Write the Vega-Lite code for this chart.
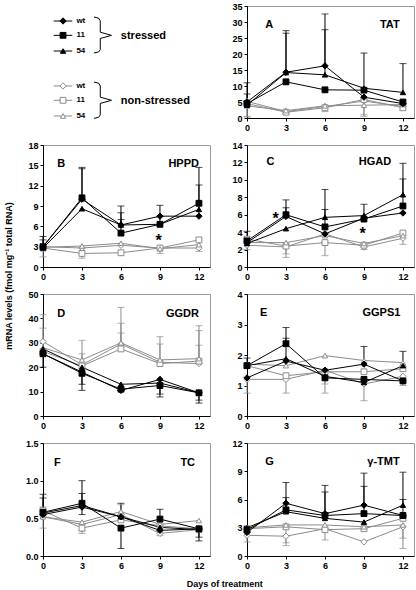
{
"$schema": "https://vega.github.io/schema/vega-lite/v6.json",
"padding": {"left": 4, "top": 1, "right": 2, "bottom": 2},
"config": {
 "font": "Liberation Sans",
 "view": {"stroke": "#9a9a9a", "strokeWidth": 1},
 "axis": {"labelFont": "Liberation Sans", "labelFontWeight": "bold", "labelFontSize": 9, "labelColor": "#000", "domainColor": "#000", "tickColor": "#000", "tickSize": 3, "grid": false, "labelPadding": 2, "labelFlush": false, "labelOverlap": false, "domainWidth": 1, "tickWidth": 1, "tickCount": 20},
 "title": {"font": "Liberation Sans", "fontWeight": "bold", "fontSize": 9, "color": "#000"}
},
"datasets": {
 "leg": [
  {"g":"S","gl":"stressed","s":"wt","y":13.4},{"g":"S","gl":"stressed","s":"11","y":26.2},{"g":"S","gl":"stressed","s":"54","y":40.2},
  {"g":"N","gl":"non-stressed","s":"wt","y":71.4},{"g":"N","gl":"non-stressed","s":"11","y":84.2},{"g":"N","gl":"non-stressed","s":"54","y":98.2}
 ],
 "br": [
  {"g":"S","i":0,"bx":30.5,"by":9.8},{"g":"S","i":1,"bx":33.3,"by":10.8},{"g":"S","i":2,"bx":34.3,"by":13.3},{"g":"S","i":3,"bx":34.3,"by":23.4},{"g":"S","i":4,"bx":41,"by":26.2},{"g":"S","i":5,"bx":34.3,"by":29},{"g":"S","i":6,"bx":34.3,"by":39},{"g":"S","i":7,"bx":33.3,"by":41},{"g":"S","i":8,"bx":30.5,"by":41.9},
  {"g":"N","i":0,"bx":30.5,"by":67.9},{"g":"N","i":1,"bx":33.3,"by":68.9},{"g":"N","i":2,"bx":34.3,"by":71.4},{"g":"N","i":3,"bx":34.3,"by":81.4},{"g":"N","i":4,"bx":41,"by":84.2},{"g":"N","i":5,"bx":34.3,"by":87},{"g":"N","i":6,"bx":34.3,"by":97.2},{"g":"N","i":7,"bx":33.3,"by":99.4},{"g":"N","i":8,"bx":30.5,"by":100.3}
 ],
 "d": [
  {"p":"A","g":"N","s":"wt","d":0,"v":5.2,"e":0.5},{"p":"A","g":"N","s":"wt","d":3,"v":2},{"p":"A","g":"N","s":"wt","d":6,"v":3.6},{"p":"A","g":"N","s":"wt","d":9,"v":5.3,"e":1},{"p":"A","g":"N","s":"wt","d":12,"v":3.6},
  {"p":"A","g":"N","s":"11","d":0,"v":4.5,"e":0.3},{"p":"A","g":"N","s":"11","d":3,"v":1.8},{"p":"A","g":"N","s":"11","d":6,"v":3.2,"e":2},{"p":"A","g":"N","s":"11","d":9,"v":5.8},{"p":"A","g":"N","s":"11","d":12,"v":3.2,"e":2.5},
  {"p":"A","g":"N","s":"54","d":0,"v":3.8},{"p":"A","g":"N","s":"54","d":3,"v":2.3,"e":1.5},{"p":"A","g":"N","s":"54","d":6,"v":3.8},{"p":"A","g":"N","s":"54","d":9,"v":4,"e":0.5},{"p":"A","g":"N","s":"54","d":12,"v":4.2},
  {"p":"A","g":"S","s":"wt","d":0,"v":5,"e":7.5},{"p":"A","g":"S","s":"wt","d":3,"v":14.3,"e":27.3},{"p":"A","g":"S","s":"wt","d":6,"v":16.3,"e":32.5},{"p":"A","g":"S","s":"wt","d":9,"v":6.5},{"p":"A","g":"S","s":"wt","d":12,"v":4.5},
  {"p":"A","g":"S","s":"11","d":0,"v":4.5,"e":11},{"p":"A","g":"S","s":"11","d":3,"v":11.3},{"p":"A","g":"S","s":"11","d":6,"v":8.8},{"p":"A","g":"S","s":"11","d":9,"v":8.7},{"p":"A","g":"S","s":"11","d":12,"v":5},
  {"p":"A","g":"S","s":"54","d":0,"v":4},{"p":"A","g":"S","s":"54","d":3,"v":14.2,"e":26.5},{"p":"A","g":"S","s":"54","d":6,"v":13.5,"e":27.6},{"p":"A","g":"S","s":"54","d":9,"v":9.3,"e":20.3},{"p":"A","g":"S","s":"54","d":12,"v":8,"e":17},

  {"p":"B","g":"N","s":"wt","d":0,"v":3,"e":1.5},{"p":"B","g":"N","s":"wt","d":3,"v":2.8},{"p":"B","g":"N","s":"wt","d":6,"v":3.2},{"p":"B","g":"N","s":"wt","d":9,"v":2.8,"e":2},{"p":"B","g":"N","s":"wt","d":12,"v":2.8,"e":2.3},
  {"p":"B","g":"N","s":"11","d":0,"v":2.8},{"p":"B","g":"N","s":"11","d":3,"v":2,"e":1.3},{"p":"B","g":"N","s":"11","d":6,"v":2.1},{"p":"B","g":"N","s":"11","d":9,"v":2.8},{"p":"B","g":"N","s":"11","d":12,"v":4},
  {"p":"B","g":"N","s":"54","d":0,"v":2.9},{"p":"B","g":"N","s":"54","d":3,"v":3.1},{"p":"B","g":"N","s":"54","d":6,"v":3.5},{"p":"B","g":"N","s":"54","d":9,"v":2.7},{"p":"B","g":"N","s":"54","d":12,"v":3.3},
  {"p":"B","g":"S","s":"wt","d":0,"v":3,"e":4.5},{"p":"B","g":"S","s":"wt","d":3,"v":10,"e":14.7},{"p":"B","g":"S","s":"wt","d":6,"v":6.2,"e":9},{"p":"B","g":"S","s":"wt","d":9,"v":7.5,"e":9.1},{"p":"B","g":"S","s":"wt","d":12,"v":7.5,"e":12.1},
  {"p":"B","g":"S","s":"11","d":0,"v":3,"e":4},{"p":"B","g":"S","s":"11","d":3,"v":10.2,"e":14.5},{"p":"B","g":"S","s":"11","d":6,"v":5,"e":7},{"p":"B","g":"S","s":"11","d":9,"v":6.3,"e":7.5},{"p":"B","g":"S","s":"11","d":12,"v":9.4,"e":14.7},
  {"p":"B","g":"S","s":"54","d":0,"v":2.8},{"p":"B","g":"S","s":"54","d":3,"v":8.6},{"p":"B","g":"S","s":"54","d":6,"v":6.2,"e":8},{"p":"B","g":"S","s":"54","d":9,"v":6.3},{"p":"B","g":"S","s":"54","d":12,"v":8.5},

  {"p":"C","g":"N","s":"wt","d":0,"v":2.5,"e":2},{"p":"C","g":"N","s":"wt","d":3,"v":2.3,"e":1.1},{"p":"C","g":"N","s":"wt","d":6,"v":3.8},{"p":"C","g":"N","s":"wt","d":9,"v":2.3,"e":2},{"p":"C","g":"N","s":"wt","d":12,"v":3.3,"e":2.6},
  {"p":"C","g":"N","s":"11","d":0,"v":3.2},{"p":"C","g":"N","s":"11","d":3,"v":2.4,"e":1.5},{"p":"C","g":"N","s":"11","d":6,"v":2.8,"e":1.3},{"p":"C","g":"N","s":"11","d":9,"v":2.5},{"p":"C","g":"N","s":"11","d":12,"v":3.9},
  {"p":"C","g":"N","s":"54","d":0,"v":2.8},{"p":"C","g":"N","s":"54","d":3,"v":2.8},{"p":"C","g":"N","s":"54","d":6,"v":3.6},{"p":"C","g":"N","s":"54","d":9,"v":2.7},{"p":"C","g":"N","s":"54","d":12,"v":3.6},
  {"p":"C","g":"S","s":"wt","d":0,"v":2.8,"e":4.1},{"p":"C","g":"S","s":"wt","d":3,"v":5.8,"e":7.7},{"p":"C","g":"S","s":"wt","d":6,"v":3.8},{"p":"C","g":"S","s":"wt","d":9,"v":5.6},{"p":"C","g":"S","s":"wt","d":12,"v":6.2},
  {"p":"C","g":"S","s":"11","d":0,"v":3},{"p":"C","g":"S","s":"11","d":3,"v":6,"e":6.8},{"p":"C","g":"S","s":"11","d":6,"v":4.6,"e":6.6},{"p":"C","g":"S","s":"11","d":9,"v":5.5,"e":7.2},{"p":"C","g":"S","s":"11","d":12,"v":7,"e":10.1},
  {"p":"C","g":"S","s":"54","d":0,"v":2.7},{"p":"C","g":"S","s":"54","d":3,"v":4.4},{"p":"C","g":"S","s":"54","d":6,"v":5.7,"e":8.9},{"p":"C","g":"S","s":"54","d":9,"v":5.9},{"p":"C","g":"S","s":"54","d":12,"v":8.3,"e":11.9},

  {"p":"D","g":"N","s":"wt","d":0,"v":30.5,"e":41.5},{"p":"D","g":"N","s":"wt","d":3,"v":21,"e":31},{"p":"D","g":"N","s":"wt","d":6,"v":29.5,"e":44.5},{"p":"D","g":"N","s":"wt","d":9,"v":22,"e":32.5},{"p":"D","g":"N","s":"wt","d":12,"v":21.5,"e":37},
  {"p":"D","g":"N","s":"11","d":0,"v":26.5,"e":36},{"p":"D","g":"N","s":"11","d":3,"v":20.5,"e":25.5},{"p":"D","g":"N","s":"11","d":6,"v":27.5,"e":34},{"p":"D","g":"N","s":"11","d":9,"v":21.5,"e":29.5},{"p":"D","g":"N","s":"11","d":12,"v":22.5,"e":35},
  {"p":"D","g":"N","s":"54","d":0,"v":28},{"p":"D","g":"N","s":"54","d":3,"v":23},{"p":"D","g":"N","s":"54","d":6,"v":30,"e":38},{"p":"D","g":"N","s":"54","d":9,"v":23},{"p":"D","g":"N","s":"54","d":12,"v":23.5,"e":29},
  {"p":"D","g":"S","s":"wt","d":0,"v":25.5,"e":20},{"p":"D","g":"S","s":"wt","d":3,"v":18,"e":13},{"p":"D","g":"S","s":"wt","d":6,"v":10.5},{"p":"D","g":"S","s":"wt","d":9,"v":15,"e":9},{"p":"D","g":"S","s":"wt","d":12,"v":9.5,"e":5.3},
  {"p":"D","g":"S","s":"11","d":0,"v":25.5},{"p":"D","g":"S","s":"11","d":3,"v":17.5,"e":10.5},{"p":"D","g":"S","s":"11","d":6,"v":11},{"p":"D","g":"S","s":"11","d":9,"v":12.5,"e":7.8},{"p":"D","g":"S","s":"11","d":12,"v":9.5,"e":6.5},
  {"p":"D","g":"S","s":"54","d":0,"v":27.5},{"p":"D","g":"S","s":"54","d":3,"v":20},{"p":"D","g":"S","s":"54","d":6,"v":13,"e":10.5},{"p":"D","g":"S","s":"54","d":9,"v":13.5},{"p":"D","g":"S","s":"54","d":12,"v":9.5},

  {"p":"E","g":"N","s":"wt","d":0,"v":1.2,"e":0.75},{"p":"E","g":"N","s":"wt","d":3,"v":1.2},{"p":"E","g":"N","s":"wt","d":6,"v":1.5,"e":1.05},{"p":"E","g":"N","s":"wt","d":9,"v":1.05,"e":0.5},{"p":"E","g":"N","s":"wt","d":12,"v":1.3,"e":1},
  {"p":"E","g":"N","s":"11","d":0,"v":1.65},{"p":"E","g":"N","s":"11","d":3,"v":1.32,"e":0.75},{"p":"E","g":"N","s":"11","d":6,"v":1.45,"e":0.75},{"p":"E","g":"N","s":"11","d":9,"v":1.45},{"p":"E","g":"N","s":"11","d":12,"v":1.55},
  {"p":"E","g":"N","s":"54","d":0,"v":1.7},{"p":"E","g":"N","s":"54","d":3,"v":1.65},{"p":"E","g":"N","s":"54","d":6,"v":1.98},{"p":"E","g":"N","s":"54","d":9,"v":1.82},{"p":"E","g":"N","s":"54","d":12,"v":1.75},
  {"p":"E","g":"S","s":"wt","d":0,"v":1.25},{"p":"E","g":"S","s":"wt","d":3,"v":1.8},{"p":"E","g":"S","s":"wt","d":6,"v":1.5},{"p":"E","g":"S","s":"wt","d":9,"v":1.7,"e":2.28},{"p":"E","g":"S","s":"wt","d":12,"v":1.15},
  {"p":"E","g":"S","s":"11","d":0,"v":1.65,"e":1.9},{"p":"E","g":"S","s":"11","d":3,"v":2.37,"e":2.9},{"p":"E","g":"S","s":"11","d":6,"v":1.25},{"p":"E","g":"S","s":"11","d":9,"v":1.2},{"p":"E","g":"S","s":"11","d":12,"v":1.15},
  {"p":"E","g":"S","s":"54","d":0,"v":1.65},{"p":"E","g":"S","s":"54","d":3,"v":1.88,"e":2.55},{"p":"E","g":"S","s":"54","d":6,"v":1.3},{"p":"E","g":"S","s":"54","d":9,"v":1.1},{"p":"E","g":"S","s":"54","d":12,"v":1.65,"e":2.12},

  {"p":"F","g":"N","s":"wt","d":0,"v":0.52,"e":0.37},{"p":"F","g":"N","s":"wt","d":3,"v":0.42},{"p":"F","g":"N","s":"wt","d":6,"v":0.55},{"p":"F","g":"N","s":"wt","d":9,"v":0.3,"e":0.27},{"p":"F","g":"N","s":"wt","d":12,"v":0.35},
  {"p":"F","g":"N","s":"11","d":0,"v":0.6,"e":0.65},{"p":"F","g":"N","s":"11","d":3,"v":0.37,"e":0.3},{"p":"F","g":"N","s":"11","d":6,"v":0.48},{"p":"F","g":"N","s":"11","d":9,"v":0.4},{"p":"F","g":"N","s":"11","d":12,"v":0.36},
  {"p":"F","g":"N","s":"54","d":0,"v":0.52},{"p":"F","g":"N","s":"54","d":3,"v":0.45,"e":0.33},{"p":"F","g":"N","s":"54","d":6,"v":0.59,"e":0.68},{"p":"F","g":"N","s":"54","d":9,"v":0.42},{"p":"F","g":"N","s":"54","d":12,"v":0.47},
  {"p":"F","g":"S","s":"wt","d":0,"v":0.55,"e":0.82},{"p":"F","g":"S","s":"wt","d":3,"v":0.65,"e":0.83},{"p":"F","g":"S","s":"wt","d":6,"v":0.52,"e":0.7},{"p":"F","g":"S","s":"wt","d":9,"v":0.34},{"p":"F","g":"S","s":"wt","d":12,"v":0.36,"e":0.25},
  {"p":"F","g":"S","s":"11","d":0,"v":0.58,"e":0.77},{"p":"F","g":"S","s":"11","d":3,"v":0.7,"e":1},{"p":"F","g":"S","s":"11","d":6,"v":0.37,"e":0.1},{"p":"F","g":"S","s":"11","d":9,"v":0.49,"e":0.62},{"p":"F","g":"S","s":"11","d":12,"v":0.36},
  {"p":"F","g":"S","s":"54","d":0,"v":0.57},{"p":"F","g":"S","s":"54","d":3,"v":0.67,"e":0.55},{"p":"F","g":"S","s":"54","d":6,"v":0.52},{"p":"F","g":"S","s":"54","d":9,"v":0.38},{"p":"F","g":"S","s":"54","d":12,"v":0.35,"e":0.2},

  {"p":"G","g":"N","s":"wt","d":0,"v":2.2,"e":1.5},{"p":"G","g":"N","s":"wt","d":3,"v":2.1,"e":1.1},{"p":"G","g":"N","s":"wt","d":6,"v":2.9},{"p":"G","g":"N","s":"wt","d":9,"v":1.5},{"p":"G","g":"N","s":"wt","d":12,"v":3.1,"e":0.8},
  {"p":"G","g":"N","s":"11","d":0,"v":2.9},{"p":"G","g":"N","s":"11","d":3,"v":3.1,"e":1.4},{"p":"G","g":"N","s":"11","d":6,"v":2.8,"e":1.7},{"p":"G","g":"N","s":"11","d":9,"v":2.9},{"p":"G","g":"N","s":"11","d":12,"v":4},
  {"p":"G","g":"N","s":"54","d":0,"v":3},{"p":"G","g":"N","s":"54","d":3,"v":3.3},{"p":"G","g":"N","s":"54","d":6,"v":3.3},{"p":"G","g":"N","s":"54","d":9,"v":3.1},{"p":"G","g":"N","s":"54","d":12,"v":3.3,"e":1.9},
  {"p":"G","g":"S","s":"wt","d":0,"v":2.5},{"p":"G","g":"S","s":"wt","d":3,"v":5.6,"e":7.8},{"p":"G","g":"S","s":"wt","d":6,"v":4.5,"e":7.5},{"p":"G","g":"S","s":"wt","d":9,"v":5.4,"e":8.8},{"p":"G","g":"S","s":"wt","d":12,"v":4.3},
  {"p":"G","g":"S","s":"11","d":0,"v":2.8},{"p":"G","g":"S","s":"11","d":3,"v":4.9,"e":6.2},{"p":"G","g":"S","s":"11","d":6,"v":4.3},{"p":"G","g":"S","s":"11","d":9,"v":4.5,"e":7.4},{"p":"G","g":"S","s":"11","d":12,"v":4.3,"e":6},
  {"p":"G","g":"S","s":"54","d":0,"v":3},{"p":"G","g":"S","s":"54","d":3,"v":4.7},{"p":"G","g":"S","s":"54","d":6,"v":4,"e":6.8},{"p":"G","g":"S","s":"54","d":9,"v":3.6},{"p":"G","g":"S","s":"54","d":12,"v":5.4,"e":8.9}
 ]
},
"title": {"text": "mRNA levels (fmol mg⁻¹ total RNA)", "orient": "left", "anchor": "middle", "offset": 11, "dx": 19},
"vconcat": [
{
"title": {"text": "Days of treatment", "orient": "bottom", "anchor": "middle", "offset": 9, "dx": 5},
"columns": 2, "bounds": "flush", "align": "each",
"spacing": {"row": 27, "column": 37},
"concat": [
 {"width":167,"height":112,"view":{"stroke":null},"layer":[
  {"data":{"name":"leg"},
   "encoding":{"y":{"field":"y","type":"quantitative","scale":{"domain":[0,100],"reverse":true},"axis":null},
    "color":{"field":"g","type":"nominal","scale":{"domain":["S","N"],"range":["#000000","#8c8c8c"]},"legend":null}},
   "layer":[
    {"mark":{"type":"rule","strokeWidth":1},"encoding":{"x":{"datum":6.4,"type":"quantitative","scale":{"domain":[0,100]},"axis":null},"x2":{"datum":17.5}}},
    {"mark":{"type":"point","opacity":1,"strokeWidth":1},"encoding":{"x":{"datum":12,"type":"quantitative","axis":null},
      "shape":{"field":"s","type":"nominal","scale":{"domain":["wt","11","54"],"range":["diamond","square","triangle-up"]},"legend":null},
      "fill":{"field":"g","type":"nominal","scale":{"domain":["S","N"],"range":["#000000","#ffffff"]},"legend":null},
      "size":{"field":"s","type":"ordinal","scale":{"domain":["wt","11","54"],"range":[40,28,36]},"legend":null}}},
    {"mark":{"type":"text","align":"left","baseline":"middle","fontSize":8,"fontWeight":"bold"},"encoding":{"x":{"datum":20,"type":"quantitative","axis":null},"text":{"field":"s"},"color":{"value":"#000000"}}},
    {"transform":[{"filter":"datum.s==='11'"}],"mark":{"type":"text","align":"left","baseline":"middle","fontSize":11,"fontWeight":"bold","dy":1},"encoding":{"x":{"datum":46.6,"type":"quantitative","axis":null},"text":{"field":"gl"},"color":{"value":"#000000"}}}
   ]},
  {"data":{"name":"br"},"mark":{"type":"line","strokeWidth":1,"color":"#000000"},"encoding":{"x":{"field":"bx","type":"quantitative","axis":null},"y":{"field":"by","type":"quantitative","axis":null},"detail":{"field":"g"},"order":{"field":"i","type":"quantitative"}}}
 ]},

 {"width":167,"height":112,"layer":[
  {"data":{"name":"d"},"transform":[{"filter":"datum.p==='A'"}],
   "encoding":{
    "x":{"field":"d","type":"quantitative","title":null,"scale":{"domain":[0,12.85],"nice":false},"axis":{"values":[0,3,6,9,12],"tickCount":20,"format":"d"}},
    "y":{"field":"v","type":"quantitative","title":null,"scale":{"domain":[0,35],"nice":false},"axis":{"values":[0,5,10,15,20,25,30,35],"tickCount":20,"format":"d"}},
    "color":{"field":"g","type":"nominal","scale":{"domain":["S","N"],"range":["#000000","#8c8c8c"]},"legend":null}},
   "layer":[
    {"mark":{"type":"line","strokeWidth":1},"encoding":{"detail":{"field":"s"}}},
    {"transform":[{"filter":"isValid(datum.e)"}],"mark":{"type":"rule","strokeWidth":1},"encoding":{"y2":{"field":"e"}}},
    {"transform":[{"filter":"isValid(datum.e)"}],"mark":{"type":"tick","orient":"horizontal","size":7,"thickness":1},"encoding":{"y":{"field":"e","type":"quantitative","title":null}}},
    {"mark":{"type":"point","opacity":1,"strokeWidth":1},"encoding":{
      "shape":{"field":"s","type":"nominal","scale":{"domain":["wt","11","54"],"range":["diamond","square","triangle-up"]},"legend":null},
      "fill":{"field":"g","type":"nominal","scale":{"domain":["S","N"],"range":["#000000","#ffffff"]},"legend":null},
      "size":{"field":"s","type":"ordinal","scale":{"domain":["wt","11","54"],"range":[40,28,36]},"legend":null}}}
   ]},
  {"data":{"values":[{}]},"mark":{"type":"text","fontSize":11,"fontWeight":"bold","baseline":"middle","align":"left"},"encoding":{"x":{"datum":1.4,"type":"quantitative"},"y":{"datum":29.06,"type":"quantitative"},"text":{"value":"A"}}},
  {"data":{"values":[{}]},"mark":{"type":"text","fontSize":11,"fontWeight":"bold","baseline":"middle","align":"right"},"encoding":{"x":{"datum":11.75,"type":"quantitative"},"y":{"datum":29.06,"type":"quantitative"},"text":{"value":"TAT"}}}
 ]},

 {"width":167,"height":122,"layer":[
  {"data":{"name":"d"},"transform":[{"filter":"datum.p==='B'"}],
   "encoding":{
    "x":{"field":"d","type":"quantitative","title":null,"scale":{"domain":[0,12.85],"nice":false},"axis":{"values":[0,3,6,9,12],"tickCount":20,"format":"d"}},
    "y":{"field":"v","type":"quantitative","title":null,"scale":{"domain":[0,18],"nice":false},"axis":{"values":[0,3,6,9,12,15,18],"tickCount":20,"format":"d"}},
    "color":{"field":"g","type":"nominal","scale":{"domain":["S","N"],"range":["#000000","#8c8c8c"]},"legend":null}},
   "layer":[
    {"mark":{"type":"line","strokeWidth":1},"encoding":{"detail":{"field":"s"}}},
    {"transform":[{"filter":"isValid(datum.e)"}],"mark":{"type":"rule","strokeWidth":1},"encoding":{"y2":{"field":"e"}}},
    {"transform":[{"filter":"isValid(datum.e)"}],"mark":{"type":"tick","orient":"horizontal","size":7,"thickness":1},"encoding":{"y":{"field":"e","type":"quantitative","title":null}}},
    {"mark":{"type":"point","opacity":1,"strokeWidth":1},"encoding":{
      "shape":{"field":"s","type":"nominal","scale":{"domain":["wt","11","54"],"range":["diamond","square","triangle-up"]},"legend":null},
      "fill":{"field":"g","type":"nominal","scale":{"domain":["S","N"],"range":["#000000","#ffffff"]},"legend":null},
      "size":{"field":"s","type":"ordinal","scale":{"domain":["wt","11","54"],"range":[40,28,36]},"legend":null}}}
   ]},
  {"data":{"values":[{}]},"mark":{"type":"text","fontSize":11,"fontWeight":"bold","baseline":"middle","align":"left"},"encoding":{"x":{"datum":1.1,"type":"quantitative"},"y":{"datum":15.2,"type":"quantitative"},"text":{"value":"B"}}},
  {"data":{"values":[{}]},"mark":{"type":"text","fontSize":11,"fontWeight":"bold","baseline":"middle","align":"right"},"encoding":{"x":{"datum":12,"type":"quantitative"},"y":{"datum":15.2,"type":"quantitative"},"text":{"value":"HPPD"}}},
  {"data":{"values":[{}]},"mark":{"type":"text","fontSize":16,"fontWeight":"bold","baseline":"middle","align":"center","dy":4},"encoding":{"x":{"datum":8.9,"type":"quantitative"},"y":{"datum":4.5,"type":"quantitative"},"text":{"value":"*"}}}
 ]},

 {"width":167,"height":122,"layer":[
  {"data":{"name":"d"},"transform":[{"filter":"datum.p==='C'"}],
   "encoding":{
    "x":{"field":"d","type":"quantitative","title":null,"scale":{"domain":[0,12.85],"nice":false},"axis":{"values":[0,3,6,9,12],"tickCount":20,"format":"d"}},
    "y":{"field":"v","type":"quantitative","title":null,"scale":{"domain":[0,14],"nice":false},"axis":{"values":[0,2,4,6,8,10,12,14],"tickCount":20,"format":"d"}},
    "color":{"field":"g","type":"nominal","scale":{"domain":["S","N"],"range":["#000000","#8c8c8c"]},"legend":null}},
   "layer":[
    {"mark":{"type":"line","strokeWidth":1},"encoding":{"detail":{"field":"s"}}},
    {"transform":[{"filter":"isValid(datum.e)"}],"mark":{"type":"rule","strokeWidth":1},"encoding":{"y2":{"field":"e"}}},
    {"transform":[{"filter":"isValid(datum.e)"}],"mark":{"type":"tick","orient":"horizontal","size":7,"thickness":1},"encoding":{"y":{"field":"e","type":"quantitative","title":null}}},
    {"mark":{"type":"point","opacity":1,"strokeWidth":1},"encoding":{
      "shape":{"field":"s","type":"nominal","scale":{"domain":["wt","11","54"],"range":["diamond","square","triangle-up"]},"legend":null},
      "fill":{"field":"g","type":"nominal","scale":{"domain":["S","N"],"range":["#000000","#ffffff"]},"legend":null},
      "size":{"field":"s","type":"ordinal","scale":{"domain":["wt","11","54"],"range":[40,28,36]},"legend":null}}}
   ]},
  {"data":{"values":[{}]},"mark":{"type":"text","fontSize":11,"fontWeight":"bold","baseline":"middle","align":"left"},"encoding":{"x":{"datum":1.5,"type":"quantitative"},"y":{"datum":12.05,"type":"quantitative"},"text":{"value":"C"}}},
  {"data":{"values":[{}]},"mark":{"type":"text","fontSize":11,"fontWeight":"bold","baseline":"middle","align":"right"},"encoding":{"x":{"datum":11.1,"type":"quantitative"},"y":{"datum":12.05,"type":"quantitative"},"text":{"value":"HGAD"}}},
  {"data":{"values":[{}]},"mark":{"type":"text","fontSize":16,"fontWeight":"bold","baseline":"middle","align":"center","dy":4},"encoding":{"x":{"datum":2.2,"type":"quantitative"},"y":{"datum":6.0,"type":"quantitative"},"text":{"value":"*"}}},
  {"data":{"values":[{}]},"mark":{"type":"text","fontSize":16,"fontWeight":"bold","baseline":"middle","align":"center","dy":4},"encoding":{"x":{"datum":8.9,"type":"quantitative"},"y":{"datum":4.25,"type":"quantitative"},"text":{"value":"*"}}}
 ]},

 {"width":167,"height":122,"layer":[
  {"data":{"name":"d"},"transform":[{"filter":"datum.p==='D'"}],
   "encoding":{
    "x":{"field":"d","type":"quantitative","title":null,"scale":{"domain":[0,12.85],"nice":false},"axis":{"values":[0,3,6,9,12],"tickCount":20,"format":"d"}},
    "y":{"field":"v","type":"quantitative","title":null,"scale":{"domain":[0,50],"nice":false},"axis":{"values":[0,10,20,30,40,50],"tickCount":20,"format":"d"}},
    "color":{"field":"g","type":"nominal","scale":{"domain":["S","N"],"range":["#000000","#8c8c8c"]},"legend":null}},
   "layer":[
    {"mark":{"type":"line","strokeWidth":1},"encoding":{"detail":{"field":"s"}}},
    {"transform":[{"filter":"isValid(datum.e)"}],"mark":{"type":"rule","strokeWidth":1},"encoding":{"y2":{"field":"e"}}},
    {"transform":[{"filter":"isValid(datum.e)"}],"mark":{"type":"tick","orient":"horizontal","size":7,"thickness":1},"encoding":{"y":{"field":"e","type":"quantitative","title":null}}},
    {"mark":{"type":"point","opacity":1,"strokeWidth":1},"encoding":{
      "shape":{"field":"s","type":"nominal","scale":{"domain":["wt","11","54"],"range":["diamond","square","triangle-up"]},"legend":null},
      "fill":{"field":"g","type":"nominal","scale":{"domain":["S","N"],"range":["#000000","#ffffff"]},"legend":null},
      "size":{"field":"s","type":"ordinal","scale":{"domain":["wt","11","54"],"range":[40,28,36]},"legend":null}}}
   ]},
  {"data":{"values":[{}]},"mark":{"type":"text","fontSize":11,"fontWeight":"bold","baseline":"middle","align":"left"},"encoding":{"x":{"datum":1.1,"type":"quantitative"},"y":{"datum":41.8,"type":"quantitative"},"text":{"value":"D"}}},
  {"data":{"values":[{}]},"mark":{"type":"text","fontSize":11,"fontWeight":"bold","baseline":"middle","align":"right"},"encoding":{"x":{"datum":12,"type":"quantitative"},"y":{"datum":41.8,"type":"quantitative"},"text":{"value":"GGDR"}}}
 ]},

 {"width":167,"height":122,"layer":[
  {"data":{"name":"d"},"transform":[{"filter":"datum.p==='E'"}],
   "encoding":{
    "x":{"field":"d","type":"quantitative","title":null,"scale":{"domain":[0,12.85],"nice":false},"axis":{"values":[0,3,6,9,12],"tickCount":20,"format":"d"}},
    "y":{"field":"v","type":"quantitative","title":null,"scale":{"domain":[0,4],"nice":false},"axis":{"values":[0,1,2,3,4],"tickCount":20,"format":"d"}},
    "color":{"field":"g","type":"nominal","scale":{"domain":["S","N"],"range":["#000000","#8c8c8c"]},"legend":null}},
   "layer":[
    {"mark":{"type":"line","strokeWidth":1},"encoding":{"detail":{"field":"s"}}},
    {"transform":[{"filter":"isValid(datum.e)"}],"mark":{"type":"rule","strokeWidth":1},"encoding":{"y2":{"field":"e"}}},
    {"transform":[{"filter":"isValid(datum.e)"}],"mark":{"type":"tick","orient":"horizontal","size":7,"thickness":1},"encoding":{"y":{"field":"e","type":"quantitative","title":null}}},
    {"mark":{"type":"point","opacity":1,"strokeWidth":1},"encoding":{
      "shape":{"field":"s","type":"nominal","scale":{"domain":["wt","11","54"],"range":["diamond","square","triangle-up"]},"legend":null},
      "fill":{"field":"g","type":"nominal","scale":{"domain":["S","N"],"range":["#000000","#ffffff"]},"legend":null},
      "size":{"field":"s","type":"ordinal","scale":{"domain":["wt","11","54"],"range":[40,28,36]},"legend":null}}}
   ]},
  {"data":{"values":[{}]},"mark":{"type":"text","fontSize":11,"fontWeight":"bold","baseline":"middle","align":"left"},"encoding":{"x":{"datum":1.0,"type":"quantitative"},"y":{"datum":3.38,"type":"quantitative"},"text":{"value":"E"}}},
  {"data":{"values":[{}]},"mark":{"type":"text","fontSize":11,"fontWeight":"bold","baseline":"middle","align":"right"},"encoding":{"x":{"datum":11.8,"type":"quantitative"},"y":{"datum":3.38,"type":"quantitative"},"text":{"value":"GGPS1"}}}
 ]},

 {"width":167,"height":113,"layer":[
  {"data":{"name":"d"},"transform":[{"filter":"datum.p==='F'"}],
   "encoding":{
    "x":{"field":"d","type":"quantitative","title":null,"scale":{"domain":[0,12.85],"nice":false},"axis":{"values":[0,3,6,9,12],"tickCount":20,"format":"d"}},
    "y":{"field":"v","type":"quantitative","title":null,"scale":{"domain":[0,1.5],"nice":false},"axis":{"values":[0,0.5,1,1.5],"format":".1f","tickCount":20}},
    "color":{"field":"g","type":"nominal","scale":{"domain":["S","N"],"range":["#000000","#8c8c8c"]},"legend":null}},
   "layer":[
    {"mark":{"type":"line","strokeWidth":1},"encoding":{"detail":{"field":"s"}}},
    {"transform":[{"filter":"isValid(datum.e)"}],"mark":{"type":"rule","strokeWidth":1},"encoding":{"y2":{"field":"e"}}},
    {"transform":[{"filter":"isValid(datum.e)"}],"mark":{"type":"tick","orient":"horizontal","size":7,"thickness":1},"encoding":{"y":{"field":"e","type":"quantitative","title":null}}},
    {"mark":{"type":"point","opacity":1,"strokeWidth":1},"encoding":{
      "shape":{"field":"s","type":"nominal","scale":{"domain":["wt","11","54"],"range":["diamond","square","triangle-up"]},"legend":null},
      "fill":{"field":"g","type":"nominal","scale":{"domain":["S","N"],"range":["#000000","#ffffff"]},"legend":null},
      "size":{"field":"s","type":"ordinal","scale":{"domain":["wt","11","54"],"range":[40,28,36]},"legend":null}}}
   ]},
  {"data":{"values":[{}]},"mark":{"type":"text","fontSize":11,"fontWeight":"bold","baseline":"middle","align":"left"},"encoding":{"x":{"datum":0.85,"type":"quantitative"},"y":{"datum":1.235,"type":"quantitative"},"text":{"value":"F"}}},
  {"data":{"values":[{}]},"mark":{"type":"text","fontSize":11,"fontWeight":"bold","baseline":"middle","align":"right"},"encoding":{"x":{"datum":11.7,"type":"quantitative"},"y":{"datum":1.235,"type":"quantitative"},"text":{"value":"TC"}}}
 ]},

 {"width":167,"height":113,"layer":[
  {"data":{"name":"d"},"transform":[{"filter":"datum.p==='G'"}],
   "encoding":{
    "x":{"field":"d","type":"quantitative","title":null,"scale":{"domain":[0,12.85],"nice":false},"axis":{"values":[0,3,6,9,12],"tickCount":20,"format":"d"}},
    "y":{"field":"v","type":"quantitative","title":null,"scale":{"domain":[0,12],"nice":false},"axis":{"values":[0,3,6,9,12],"tickCount":20,"format":"d"}},
    "color":{"field":"g","type":"nominal","scale":{"domain":["S","N"],"range":["#000000","#8c8c8c"]},"legend":null}},
   "layer":[
    {"mark":{"type":"line","strokeWidth":1},"encoding":{"detail":{"field":"s"}}},
    {"transform":[{"filter":"isValid(datum.e)"}],"mark":{"type":"rule","strokeWidth":1},"encoding":{"y2":{"field":"e"}}},
    {"transform":[{"filter":"isValid(datum.e)"}],"mark":{"type":"tick","orient":"horizontal","size":7,"thickness":1},"encoding":{"y":{"field":"e","type":"quantitative","title":null}}},
    {"mark":{"type":"point","opacity":1,"strokeWidth":1},"encoding":{
      "shape":{"field":"s","type":"nominal","scale":{"domain":["wt","11","54"],"range":["diamond","square","triangle-up"]},"legend":null},
      "fill":{"field":"g","type":"nominal","scale":{"domain":["S","N"],"range":["#000000","#ffffff"]},"legend":null},
      "size":{"field":"s","type":"ordinal","scale":{"domain":["wt","11","54"],"range":[40,28,36]},"legend":null}}}
   ]},
  {"data":{"values":[{}]},"mark":{"type":"text","fontSize":11,"fontWeight":"bold","baseline":"middle","align":"left"},"encoding":{"x":{"datum":1.4,"type":"quantitative"},"y":{"datum":9.94,"type":"quantitative"},"text":{"value":"G"}}},
  {"data":{"values":[{}]},"mark":{"type":"text","fontSize":11,"fontWeight":"bold","baseline":"middle","align":"right"},"encoding":{"x":{"datum":11.75,"type":"quantitative"},"y":{"datum":9.94,"type":"quantitative"},"text":{"value":"γ-TMT"}}}
 ]}
]
}
]
}
